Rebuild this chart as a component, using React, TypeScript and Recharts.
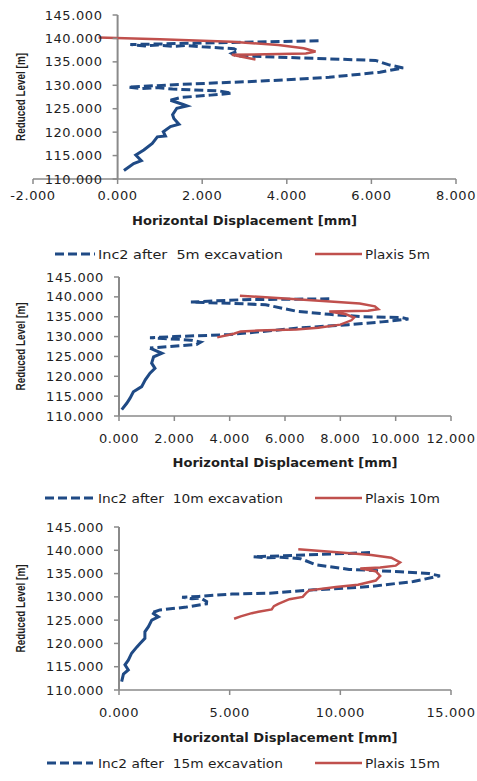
import React from "react";
import { LineChart, Line, XAxis, YAxis, Legend } from "recharts";

const BLUE = "#1f4a85";
const RED = "#c0504d";
const AXIS = "#8a8a8a";
const TEXT = "#1e1e1e";
const FONT = '"DejaVu Sans", Verdana, sans-serif';
const NARROW = '"Liberation Sans Narrow", "Liberation Sans", Arial, sans-serif';
const W = 477;
const Y_AXIS_W = 2;
const LEGEND_H = 20;

type Pt = { disp: number; level: number };
const pts = (rows: number[][]): Pt[] => rows.map(([disp, level]) => ({ disp, level }));

const levelTicks = [110, 115, 120, 125, 130, 135, 140, 145];
// the vertical axis crosses at 0 mm
const levelAxis = pts([[0, 110], [0, 145]]);

// stage 1 : 5 m excavation
const dispTicks5 = [-2, 0, 2, 4, 6, 8];
const inc5 = pts([
  [4.75, 139.5], [0.3, 138.7], [0.65, 138.4], [0.95, 138.6], [1.3, 138.3], [1.6, 138.5],
  [2.0, 138.2], [2.75, 137.8], [2.85, 137.3], [2.7, 136.8], [2.8, 136.3], [6.1, 135.3],
  [6.4, 134.4], [6.75, 133.7], [6.2, 132.8], [5.0, 131.7], [3.4, 130.9], [1.5, 130.2],
  [0.25, 129.6], [0.55, 129.3], [0.9, 129.5], [1.3, 129.2], [2.4, 128.8], [2.7, 128.3],
  [2.2, 127.9], [1.5, 127.4], [1.25, 126.8],
  [1.55, 125.9], [1.64, 125.6], [1.4, 125.1], [1.3, 123.7], [1.33, 122.9], [1.45, 121.7],
  [1.25, 121.2], [1.08, 120.1], [1.13, 119.2], [0.94, 119.0], [0.82, 117.6], [0.62, 116.2],
  [0.43, 115.1], [0.56, 113.9], [0.38, 113.3], [0.15, 111.8],
]);
const plaxis5 = pts([
  [-0.45, 140.2], [1.0, 139.8], [2.7, 139.3], [3.8, 138.6], [4.4, 137.9], [4.68, 137.2],
  [4.45, 136.8], [3.5, 136.6], [2.7, 136.5], [3.26, 135.5],
]);

// stage 2 : 10 m excavation
const dispTicks10 = [0, 2, 4, 6, 8, 10, 12];
const inc10 = pts([
  [7.6, 139.5], [4.5, 139.3], [2.6, 138.7], [3.3, 138.5], [4.0, 138.4], [5.3, 138.0],
  [6.4, 136.4], [7.6, 135.6], [8.8, 135.0], [10.2, 134.8], [10.46, 134.4], [9.5, 133.7],
  [8.3, 133.0], [6.4, 132.1], [4.0, 130.5], [2.0, 130.0], [1.12, 129.7], [1.6, 129.5],
  [2.2, 129.3], [2.6, 129.1], [2.95, 128.6], [2.8, 128.0], [1.5, 127.3], [1.12, 127.1],
  [1.55, 125.8], [1.25, 124.9], [1.18, 123.3], [1.3, 122.0], [1.12, 120.8], [0.95, 119.1],
  [0.82, 117.4], [0.52, 116.1], [0.4, 114.5], [0.28, 113.2], [0.1, 111.6],
]);
const plaxis10 = pts([
  [4.37, 140.3], [6.0, 139.6], [7.5, 138.9], [8.7, 138.3], [9.25, 137.6], [9.37, 136.9],
  [9.0, 136.5], [7.6, 136.3], [8.2, 135.6], [8.5, 134.8], [8.4, 134.1], [8.0, 133.0],
  [7.2, 132.2], [6.4, 131.8], [5.0, 131.5], [4.4, 131.3], [4.15, 130.7], [3.55, 129.8],
]);

// stage 3 : 15 m excavation
const dispTicks15 = [0, 5, 10, 15];
const inc15 = pts([
  [11.34, 139.5], [6.07, 138.6], [6.7, 138.4], [7.3, 138.5], [8.2, 138.2], [8.9, 136.9],
  [10.4, 135.9], [12.7, 135.4], [14.0, 135.0], [14.5, 134.5], [13.3, 133.3], [11.3, 132.2],
  [8.8, 131.5], [6.8, 130.8], [5.1, 130.6], [3.6, 130.1], [2.85, 129.9], [3.3, 129.6],
  [3.7, 129.7], [3.96, 129.0], [3.95, 128.5], [3.05, 127.8], [1.85, 127.2], [1.5, 126.6],
  [1.78, 125.7], [1.48, 125.0], [1.33, 123.6], [1.17, 122.5], [1.17, 121.1], [0.95, 120.0],
  [0.8, 119.2], [0.57, 117.9], [0.42, 116.4], [0.27, 115.4], [0.42, 114.3], [0.2, 113.4],
  [0.12, 111.8],
]);
const plaxis15 = pts([
  [8.1, 140.2], [10.0, 139.5], [11.4, 139.0], [12.3, 138.4], [12.7, 137.4], [12.5, 136.7],
  [11.8, 136.3], [10.9, 136.1], [11.6, 135.5], [11.8, 134.5], [11.6, 133.5], [10.8, 132.6],
  [9.8, 132.1], [8.6, 131.4], [8.45, 130.8], [8.3, 130.0], [7.7, 129.5], [7.2, 128.5],
  [7.0, 128.0], [6.9, 127.3], [6.3, 126.8], [6.0, 126.5], [5.5, 125.8], [5.2, 125.3],
]);

type Stage = {
  top: number;
  height: number;
  margin: { top: number; right: number; bottom: number; left: number };
  xAxisHeight: number;
  tickGap: number;
  titleGap: number;
  domain: [number, number];
  ticks: number[];
  inc: Pt[];
  plaxis: Pt[];
  solidFrom: number; // short segments below this point look solid in the original
  incName: string;
  plaxisName: string;
  legend: { x0: number; x1: number; tx: number; tw: number }[];
};

const stages: Stage[] = [
  {
    top: 0, height: 265, margin: { top: 15, right: 21, bottom: 1, left: 33 - Y_AXIS_W },
    xAxisHeight: 65, tickGap: 11, titleGap: 41, domain: [-2, 8], ticks: dispTicks5,
    inc: inc5, plaxis: plaxis5, solidFrom: 26,
    incName: "Inc2 after  5m excavation", plaxisName: "Plaxis 5m",
    legend: [{ x0: 55, x1: 95, tx: 98, tw: 185 }, { x0: 315, x1: 362, tx: 365, tw: 65 }],
  },
  {
    top: 265, height: 245, margin: { top: 12, right: 26, bottom: 2, left: 119 - Y_AXIS_W },
    xAxisHeight: 72, tickGap: 17, titleGap: 46, domain: [0, 12], ticks: dispTicks10,
    inc: inc10, plaxis: plaxis10, solidFrom: 23,
    incName: "Inc2 after  10m excavation", plaxisName: "Plaxis 10m",
    legend: [{ x0: 45, x1: 93, tx: 98, tw: 185 }, { x0: 315, x1: 362, tx: 365, tw: 75 }],
  },
  {
    top: 510, height: 271, margin: { top: 17, right: 26, bottom: 8, left: 119 - Y_AXIS_W },
    xAxisHeight: 63, tickGap: 17, titleGap: 47, domain: [0, 15], ticks: dispTicks15,
    inc: inc15, plaxis: plaxis15, solidFrom: 23,
    incName: "Inc2 after  15m excavation", plaxisName: "Plaxis 15m",
    legend: [{ x0: 47, x1: 93, tx: 98, tw: 185 }, { x0: 315, x1: 362, tx: 365, tw: 75 }],
  },
];

function StageLegend({ payload, items, names }: any) {
  const shown = (payload ?? []).filter((e: any) => names.includes(e.value));
  return (
    <svg width={W} height={LEGEND_H} style={{ display: "block" }}>
      {shown.map((entry: any, i: number) => {
        const p = items[i];
        if (!p) return null;
        const dash = entry.payload?.strokeDasharray;
        return (
          <g key={entry.value}>
            <line x1={p.x0} x2={p.x1} y1={10} y2={10} stroke={entry.color}
              strokeWidth={dash ? 3 : 2.5} strokeDasharray={dash} />
            <text x={p.tx} y={10} dominantBaseline="central" fill={TEXT} fontFamily={FONT}
              fontSize={12.5} textLength={p.tw} lengthAdjust="spacingAndGlyphs"
              style={{ whiteSpace: "pre" }}>
              {entry.value}
            </text>
          </g>
        );
      })}
    </svg>
  );
}

function StageChart({ s }: { s: Stage }) {
  const plotLeft = s.margin.left + Y_AXIS_W;
  const plotW = W - plotLeft - s.margin.right;
  const axisX = plotLeft + ((0 - s.domain[0]) / (s.domain[1] - s.domain[0])) * plotW;
  return (
    <div style={{ position: "absolute", left: 0, top: s.top }}>
      <LineChart width={W} height={s.height} margin={s.margin}>
        <XAxis
          dataKey="disp"
          type="number"
          domain={s.domain}
          ticks={s.ticks}
          interval={0}
          height={s.xAxisHeight}
          axisLine={{ stroke: AXIS, strokeWidth: 1.5 }}
          tickLine={{ stroke: AXIS, strokeWidth: 1.5 }}
          tickSize={5}
          tickMargin={0}
          tick={(p: any) => (
            <text x={p.x} y={p.y + s.tickGap} textAnchor="middle" dominantBaseline="central"
              fill={TEXT} fontFamily={FONT} fontSize={13} letterSpacing={0.6}>
              {Number(p.payload.value).toFixed(3)}
            </text>
          )}
          label={(p: any) => (
            <text x={p.viewBox.x + p.viewBox.width / 2} y={p.viewBox.y + s.titleGap}
              textAnchor="middle" dominantBaseline="central" fill={TEXT} fontFamily={FONT}
              fontSize={12.5} fontWeight="bold" textLength={225} lengthAdjust="spacingAndGlyphs">
              Horizontal Displacement [mm]
            </text>
          )}
        />
        <YAxis
          dataKey="level"
          type="number"
          domain={[110, 145]}
          ticks={levelTicks}
          interval={0}
          width={Y_AXIS_W}
          axisLine={false}
          tickLine={false}
          tick={(p: any) => (
            <g>
              <path d={`M${axisX - 5},${p.y}H${axisX}`} stroke={AXIS} strokeWidth={1.5} fill="none" />
              <text x={axisX - 15} y={p.y} textAnchor="end" dominantBaseline="central"
                fill={TEXT} fontFamily={FONT} fontSize={13} letterSpacing={0.6}>
                {Number(p.payload.value).toFixed(3)}
              </text>
            </g>
          )}
          label={(p: any) => {
            const cy = p.viewBox.y + p.viewBox.height / 2;
            return (
              <text x={21} y={cy} transform={`rotate(-90 21 ${cy})`} textAnchor="middle"
                dominantBaseline="central" fill={TEXT} fontFamily={NARROW} fontSize={12.5}
                fontWeight="bold" textLength={88} lengthAdjust="spacingAndGlyphs">
                Reduced Level [m]
              </text>
            );
          }}
        />
        <Line
          data={levelAxis}
          dataKey="level"
          name="level-axis"
          legendType="none"
          type="linear"
          stroke={AXIS}
          strokeWidth={2}
          dot={false}
          activeDot={false}
          isAnimationActive={false}
        />
        <Line
          data={s.inc.slice(0, s.solidFrom + 1)}
          dataKey="level"
          name={s.incName}
          type="linear"
          stroke={BLUE}
          strokeWidth={3}
          strokeDasharray="9 4"
          dot={false}
          activeDot={false}
          isAnimationActive={false}
        />
        <Line
          data={s.inc.slice(s.solidFrom)}
          dataKey="level"
          name="inc-lower"
          legendType="none"
          type="linear"
          stroke={BLUE}
          strokeWidth={3}
          dot={false}
          activeDot={false}
          isAnimationActive={false}
        />
        <Line
          data={s.plaxis}
          dataKey="level"
          name={s.plaxisName}
          type="linear"
          stroke={RED}
          strokeWidth={2.5}
          dot={false}
          activeDot={false}
          isAnimationActive={false}
        />
        <Legend
          verticalAlign="bottom"
          height={LEGEND_H}
          wrapperStyle={{ left: 0, width: W, height: LEGEND_H }}
          content={(props: any) => (
            <StageLegend payload={props.payload} items={s.legend} names={[s.incName, s.plaxisName]} />
          )}
        />
      </LineChart>
    </div>
  );
}

export default function App() {
  return (
    <div style={{ position: "absolute", left: 0, top: 0, width: W, height: 781, background: "#fff" }}>
      {stages.map((s) => (
        <StageChart key={s.incName} s={s} />
      ))}
    </div>
  );
}
